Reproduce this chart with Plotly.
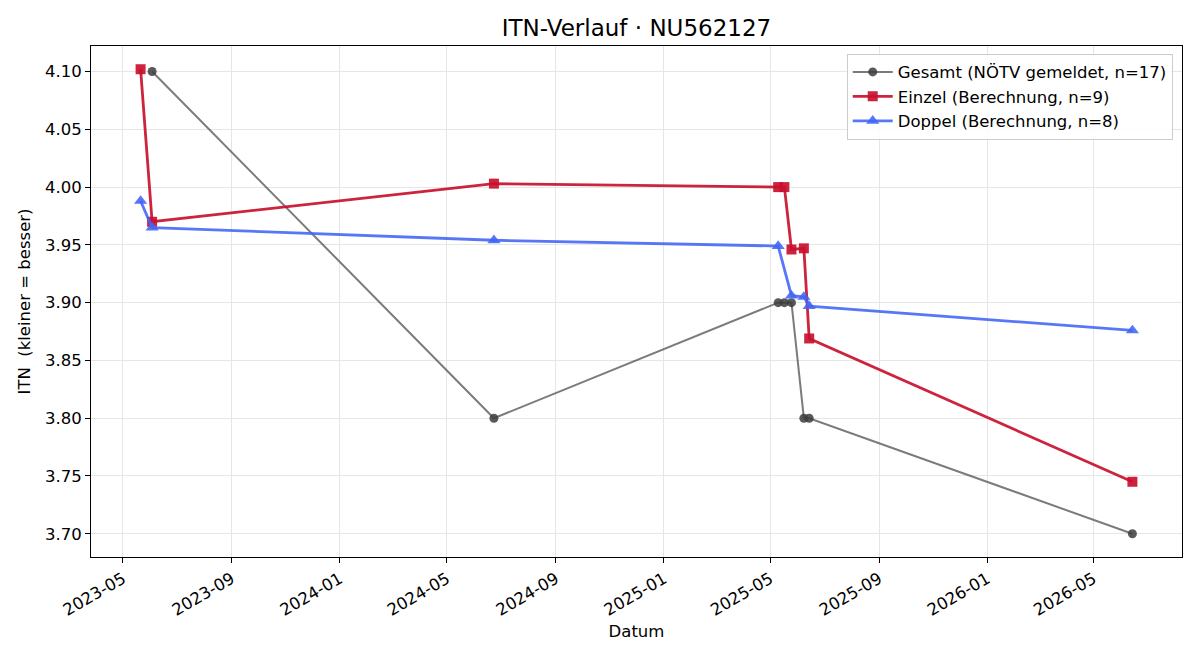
import pandas as pd
import plotly.graph_objects as go

# --- data ---
gesamt_dates = ["2023-06-03", "2024-06-23", "2025-05-10", "2025-05-17", "2025-05-25",
                "2025-06-08", "2025-06-14", "2026-06-14"]
gesamt_vals = [4.10, 3.80, 3.90, 3.90, 3.90, 3.80, 3.80, 3.70]

einzel_dates = ["2023-05-21", "2023-06-03", "2024-06-23", "2025-05-10", "2025-05-17",
                "2025-05-25", "2025-06-08", "2025-06-14", "2026-06-14"]
einzel_vals = [4.102, 3.970, 4.003, 4.000, 4.000, 3.946, 3.947, 3.869, 3.745]

doppel_dates = ["2023-05-21", "2023-06-03", "2024-06-23", "2025-05-10",
                "2025-05-25", "2025-06-08", "2025-06-14", "2026-06-14"]
doppel_vals = [3.988, 3.965, 3.954, 3.949, 3.906, 3.905, 3.897, 3.876]

yticks = [3.70, 3.75, 3.80, 3.85, 3.90, 3.95, 4.00, 4.05, 4.10]
xtick_labels = ["2023-05", "2023-09", "2024-01", "2024-05", "2024-09",
                "2025-01", "2025-05", "2025-09", "2026-01", "2026-05"]

FONT = "DejaVu Sans"
FS = 16.5

fig = go.Figure()
fig.add_trace(go.Scatter(
    x=pd.to_datetime(gesamt_dates), y=gesamt_vals, mode="lines+markers",
    name="Gesamt (NÖTV gemeldet, n=17)",
    line=dict(color="rgba(60,60,60,0.68)", width=2),
    marker=dict(symbol="circle", size=9, color="rgba(60,60,60,0.85)"),
))
fig.add_trace(go.Scatter(
    x=pd.to_datetime(einzel_dates), y=einzel_vals, mode="lines+markers",
    name="Einzel (Berechnung, n=9)",
    line=dict(color="rgba(200,16,46,0.92)", width=2.8),
    marker=dict(symbol="square", size=10, color="rgba(200,16,46,0.92)"),
))
fig.add_trace(go.Scatter(
    x=pd.to_datetime(doppel_dates), y=doppel_vals, mode="lines+markers",
    name="Doppel (Berechnung, n=8)",
    line=dict(color="rgba(65,100,245,0.88)", width=2.8),
    marker=dict(symbol="triangle-up", size=11.5, color="rgba(65,100,245,0.88)"),
))

# axis ranges with 5% margins (matplotlib-like)
all_dates = pd.to_datetime(gesamt_dates + einzel_dates + doppel_dates)
dmin, dmax = all_dates.min(), all_dates.max()
pad = (dmax - dmin) * 0.05
all_vals = gesamt_vals + einzel_vals + doppel_vals
vmin, vmax = min(all_vals), max(all_vals)
vpad = (vmax - vmin) * 0.05

tickvals = pd.to_datetime([s + "-01" for s in xtick_labels])

fig.update_layout(
    width=1200, height=660,
    paper_bgcolor="white", plot_bgcolor="white",
    margin=dict(l=91, r=18, t=46, b=103),
    font=dict(family=FONT, size=FS, color="black"),
    title=dict(text="ITN-Verlauf · NU562127", xref="paper", x=0.5, xanchor="center",
               yref="container", y=1 - 28 / 660, yanchor="middle",
               font=dict(size=23, family=FONT)),
    legend=dict(x=0.9915, y=0.985, xanchor="right", yanchor="top",
                bgcolor="rgba(255,255,255,0.85)", bordercolor="#cccccc", borderwidth=1,
                font=dict(size=FS, family=FONT), tracegroupgap=0, itemwidth=40),
    showlegend=True,
)
fig.update_xaxes(
    range=[dmin - pad, dmax + pad],
    tickvals=tickvals, ticktext=xtick_labels, tickangle=-30,
    showline=True, linecolor="black", linewidth=1, mirror=True,
    ticks="outside", ticklen=5, tickcolor="black",
    showgrid=True, gridcolor="#e6e6e6", gridwidth=1, zeroline=False,
    title=dict(text="Datum", font=dict(size=FS, family=FONT), standoff=6),
    tickfont=dict(size=FS, family=FONT),
)
fig.update_yaxes(
    range=[vmin - vpad, vmax + vpad],
    tickvals=yticks, ticktext=[f"{v:.2f}" for v in yticks],
    showline=True, linecolor="black", linewidth=1, mirror=True,
    ticks="outside", ticklen=5, tickcolor="black",
    showgrid=True, gridcolor="#e6e6e6", gridwidth=1, zeroline=False,
    title=dict(text="ITN\u00a0 (kleiner = besser)", font=dict(size=FS, family=FONT), standoff=10),
    tickfont=dict(size=FS, family=FONT),
)

fig.write_html("out.html")
